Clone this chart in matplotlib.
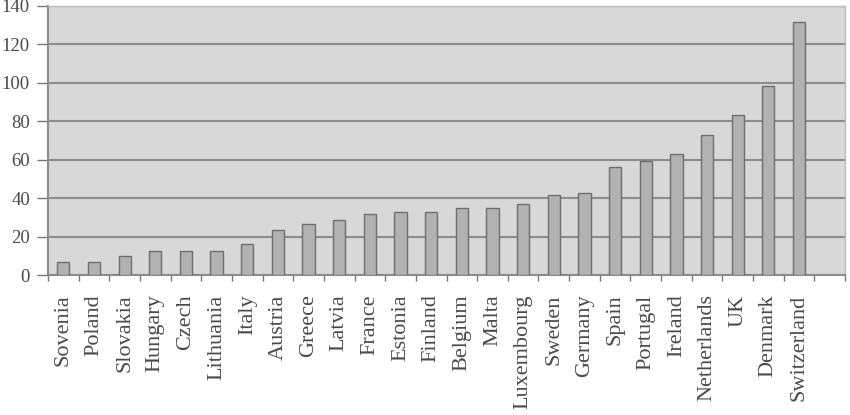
import matplotlib
matplotlib.use("Agg")
import matplotlib.pyplot as plt
import numpy as np

countries = ["Sovenia", "Poland", "Slovakia", "Hungary", "Czech", "Lithuania", "Italy",
             "Austria", "Greece", "Latvia", "France", "Estonia", "Finland", "Belgium",
             "Malta", "Luxembourg", "Sweden", "Germany", "Spain", "Portugal", "Ireland",
             "Netherlands", "UK", "Denmark", "Switzerland"]
values = [7, 7, 10, 12.5, 12.5, 12.5, 16.3, 23.5, 26.3, 28.5, 31.7, 32.7, 32.7, 34.7,
          34.7, 36.7, 41.7, 42.8, 56, 59.3, 62.9, 73.1, 83.3, 98.3, 131.9]
yticks = [0, 20, 40, 60, 80, 100, 120, 140]

plt.rcParams['font.family'] = ['Liberation Serif', 'DejaVu Serif']
text_color = '#4a4a4a'

fig = plt.figure(figsize=(8.5, 4.15), dpi=100)
ax = fig.add_axes([48/850, 1-275/415, (845-48)/850, (275-6)/415])
ax.set_facecolor('#d8d8d8')

x = np.arange(len(countries))
ax.bar(x, values, width=0.4, color='#b2b2b2', edgecolor='#6e6e6e', linewidth=1.0, zorder=3)

ax.set_xlim(-0.5, len(countries) + 0.5)
ax.set_ylim(0, 140)
ax.set_yticks(yticks)
ax.set_yticklabels([str(v) for v in yticks], fontsize=13.5, color=text_color)
ax.yaxis.grid(True, color='#8c8c8c', linewidth=1.5, zorder=1)
ax.set_axisbelow(True)

ax.set_xticks(x)
ax.set_xticklabels(countries, rotation=90, fontsize=16, color=text_color)
ax.tick_params(axis='x', which='major', length=0, pad=14)
ax.set_xticks(np.arange(-0.5, len(countries) + 1, 1), minor=True)
ax.tick_params(axis='x', which='minor', length=4, color='#777777', width=1)
ax.tick_params(axis='y', length=8, color='#777777', width=1, pad=5)

for s in ['top', 'right']:
    ax.spines[s].set_color('#bbbbbb')
    ax.spines[s].set_linewidth(1.0)
ax.spines['left'].set_color('#8c8c8c')
ax.spines['left'].set_linewidth(1.5)
ax.spines['bottom'].set_color('#8c8c8c')
ax.spines['bottom'].set_linewidth(1.5)

fig.savefig('out.png', dpi=100, facecolor='white')
